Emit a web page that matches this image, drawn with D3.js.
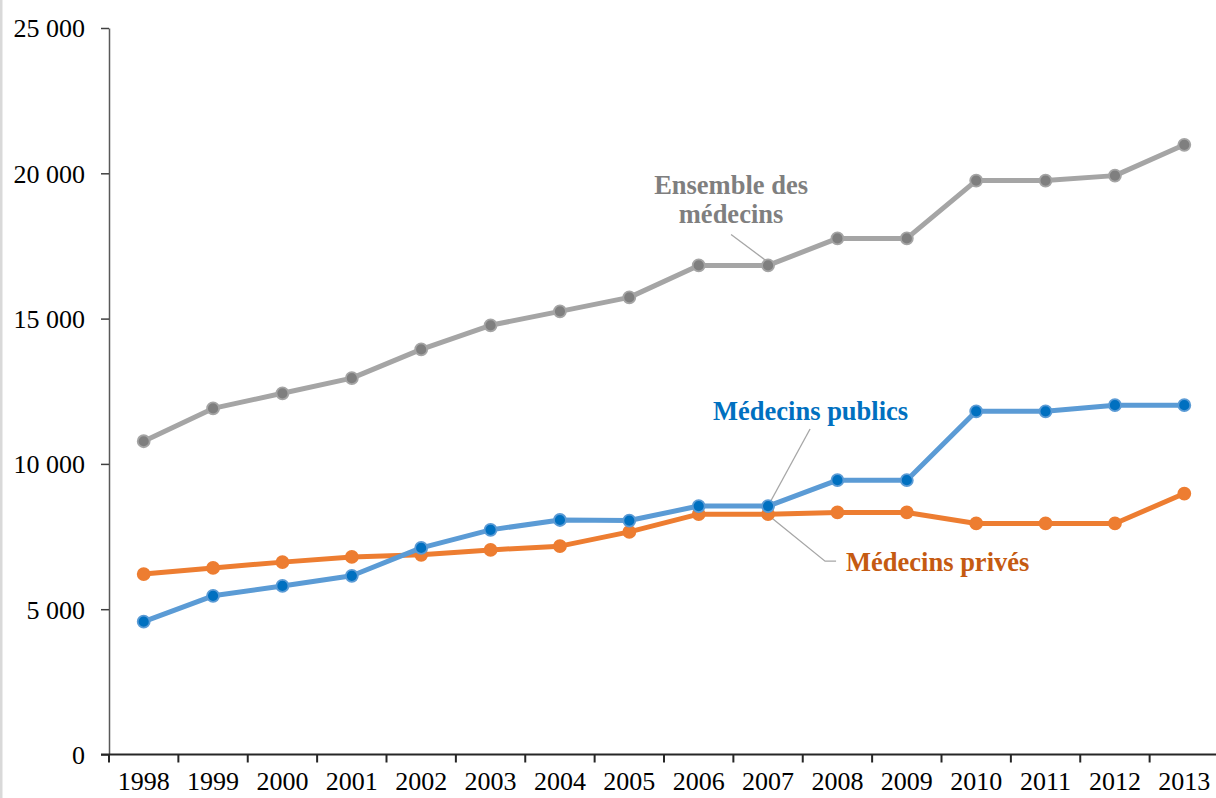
<!DOCTYPE html>
<html>
<head>
<meta charset="utf-8">
<script src="https://cdn.jsdelivr.net/npm/d3@7"></script>
<style>
  body { margin: 0; background: #fff; }
  svg { display: block; }
</style>
</head>
<body>
<div id="chart"></div>
<script>
const years = ["1998", "1999", "2000", "2001", "2002", "2003", "2004", "2005",
    "2006", "2007", "2008", "2009", "2010", "2011", "2012", "2013"];

const ensemble = [10780, 11910, 12430, 12950, 13940, 14770, 15250, 15730,
    16830, 16830, 17760, 17760, 19750, 19750, 19920, 20980];
const publics = [4570, 5460, 5800, 6150, 7110, 7730, 8070, 8050,
    8550, 8550, 9440, 9440, 11810, 11810, 12020, 12020];
const prives = [6210, 6420, 6620, 6800, 6870, 7040, 7170, 7660,
    8270, 8270, 8330, 8330, 7950, 7950, 7950, 8980];

const yTicks = [0, 5000, 10000, 15000, 20000, 25000];

const W = 1216, H = 798;
const margin = { top: 28, right: -3, bottom: 43.5, left: 109 };

const svg = d3.select("#chart").append("svg")
    .attr("width", W)
    .attr("height", H);

// thin grey frame on the left edge
svg.append("rect")
    .attr("x", 0).attr("y", 0)
    .attr("width", 2.5).attr("height", H)
    .attr("fill", "#d9d9d9");

const x = d3.scaleBand()
    .domain(years)
    .range([margin.left, W - margin.right]);

const y = d3.scaleLinear()
    .domain([0, 25000])
    .range([H - margin.bottom, margin.top]);

const fr = d3.formatLocale({ decimal: ",", thousands: "\u00a0", grouping: [3], currency: ["", " €"] });
const fmt = fr.format(",d");

const font = "'Liberation Serif', 'Times New Roman', serif";

// y axis
const yAxis = svg.append("g")
    .attr("transform", `translate(${margin.left},0)`)
    .call(d3.axisLeft(y).tickValues(yTicks).tickFormat(fmt).tickSize(8).tickSizeOuter(0).tickPadding(16));
yAxis.select(".domain").attr("stroke", "#595959").attr("stroke-width", 1.5);
yAxis.selectAll(".tick line").attr("stroke", "#404040").attr("stroke-width", 1.5);
yAxis.selectAll("text")
    .style("font-family", font)
    .style("font-size", "26px")
    .attr("fill", "#000")
    .attr("dy", "0.34em");

// x axis with ticks between categories
const xAxisG = svg.append("g")
    .attr("transform", `translate(0,${y(0)})`);
xAxisG.append("line")
    .attr("x1", margin.left - 8).attr("x2", W)
    .attr("stroke", "#262626").attr("stroke-width", 2);
xAxisG.selectAll(".xtick")
    .data(years)
    .enter()
    .append("line")
    .attr("class", "xtick")
    .attr("x1", d => x(d))
    .attr("x2", d => x(d))
    .attr("y1", 0).attr("y2", 8)
    .attr("stroke", "#262626").attr("stroke-width", 2);
xAxisG.selectAll(".xlab")
    .data(years)
    .enter()
    .append("text")
    .attr("class", "xlab")
    .attr("x", d => x(d) + x.bandwidth() / 2)
    .attr("y", 35)
    .attr("text-anchor", "middle")
    .style("font-family", font)
    .style("font-size", "26px")
    .attr("fill", "#000")
    .text(d => d);

const series = [
    { name: "ensemble", values: ensemble, line: "#a5a5a5", dot: "#7f7f7f" },
    { name: "prives", values: prives, line: "#ed7d31", dot: "#ed7d31" },
    { name: "publics", values: publics, line: "#5b9bd5", dot: "#0070c0" },
];

const line = d3.line()
    .x((d, i) => x(years[i]) + x.bandwidth() / 2)
    .y(d => y(d));

// leader lines (drawn under the series)
const cx = yr => x(yr) + x.bandwidth() / 2;
const leaders = svg.append("g")
    .attr("fill", "none")
    .attr("stroke", "#a6a6a6")
    .attr("stroke-width", 1.3);
leaders.append("path")
    .attr("d", `M${cx("2007") - 37},${y(ensemble[9]) - 31}L${cx("2007") - 1},${y(ensemble[9]) - 4}`);
leaders.append("path")
    .attr("d", `M${cx("2007") + 42},${y(publics[9]) - 77}L${cx("2007")},${y(publics[9])}`);
leaders.append("path")
    .attr("d", `M${cx("2007") + 4},${y(prives[9]) + 4}L${cx("2007") + 57},${y(prives[9]) + 47}L${cx("2007") + 68},${y(prives[9]) + 47}`);

series.forEach(s => {
    svg.append("path")
        .datum(s.values)
        .attr("fill", "none")
        .attr("stroke", s.line)
        .attr("stroke-width", 5)
        .attr("stroke-linejoin", "round")
        .attr("d", line);

    svg.selectAll(`.dot-${s.name}`)
        .data(s.values)
        .enter()
        .append("circle")
        .attr("class", `dot-${s.name}`)
        .attr("cx", (d, i) => cx(years[i]))
        .attr("cy", d => y(d))
        .attr("r", 6)
        .attr("fill", s.dot)
        .attr("stroke", s.line)
        .attr("stroke-width", 1.8);
});

// series labels
function label(txt, xPos, yPos, color, anchor) {
    svg.append("text")
        .attr("x", xPos)
        .attr("y", yPos)
        .attr("text-anchor", anchor)
        .style("font-family", font)
        .style("font-size", "26.5px")
        .style("font-weight", "bold")
        .attr("fill", color)
        .text(txt);
}
label("Ensemble des", cx("2007") - 37, y(ensemble[9]) - 71, "#7f7f7f", "middle");
label("médecins", cx("2007") - 37, y(ensemble[9]) - 42, "#7f7f7f", "middle");
label("Médecins publics", cx("2007") - 55, y(publics[9]) - 86, "#0070c0", "start");
label("Médecins privés", cx("2007") + 78, y(prives[9]) + 57, "#c55a11", "start");
</script>
</body>
</html>
